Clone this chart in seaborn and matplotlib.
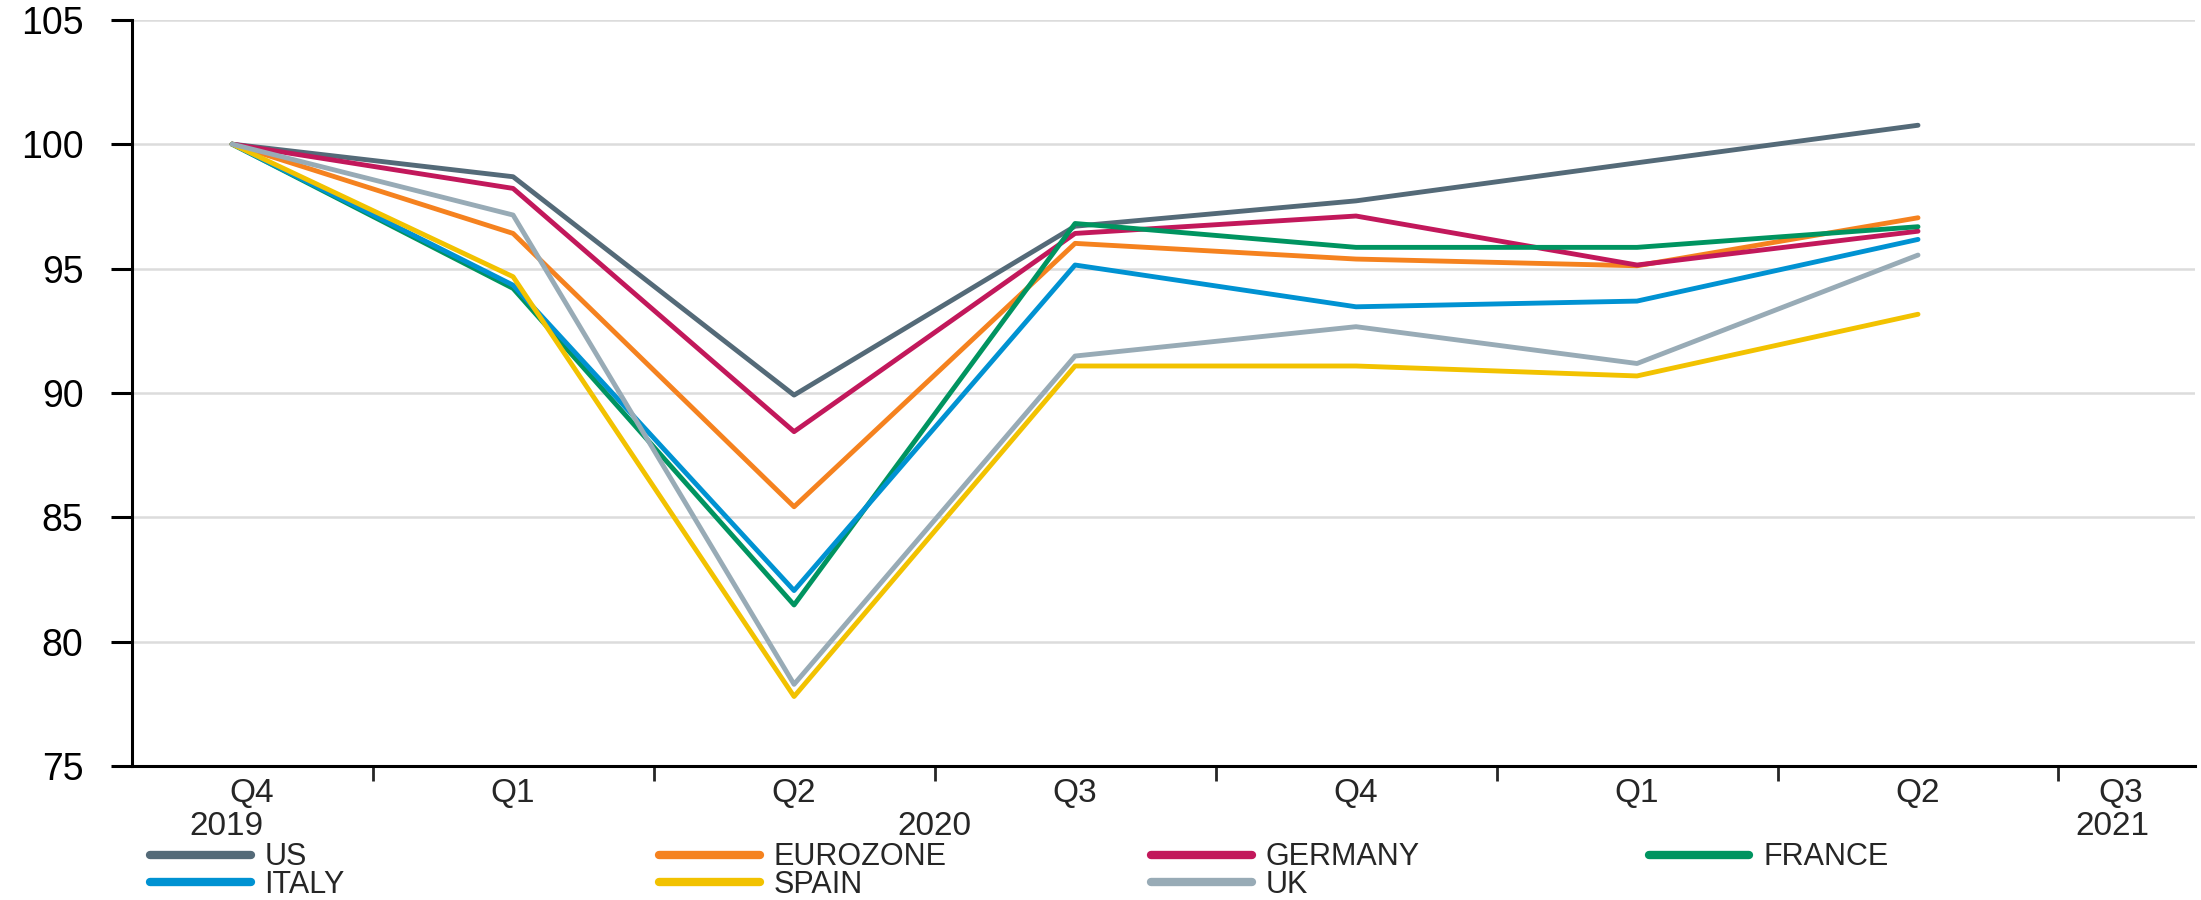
import matplotlib
matplotlib.use("Agg")
import matplotlib.pyplot as plt
import seaborn as sns
import pandas as pd

# quarters, Q4 2019 = 100
quarters = ["Q4", "Q1", "Q2", "Q3", "Q4", "Q1", "Q2", "Q3"]
years = ["2019", "2020", "2021"]

us = [100, 98.69, 89.91, 96.70, 97.72, 99.25, 100.76]
eurozone = [100, 96.41, 85.42, 96.01, 95.38, 95.11, 97.04]
germany = [100, 98.22, 88.44, 96.41, 97.11, 95.14, 96.50]
france = [100, 94.20, 81.47, 96.81, 95.85, 95.85, 96.68]
italy = [100, 94.33, 82.05, 95.14, 93.46, 93.69, 96.17]
spain = [100, 94.67, 77.79, 91.08, 91.08, 90.68, 93.16]
uk = [100, 97.15, 78.28, 91.48, 92.66, 91.18, 95.54]

series = {"US": us, "EUROZONE": eurozone, "GERMANY": germany, "FRANCE": france,
          "ITALY": italy, "SPAIN": spain, "UK": uk}
colors = {"US": "#546a78", "EUROZONE": "#f5821f", "GERMANY": "#c2185b",
          "FRANCE": "#009460", "ITALY": "#0092d2", "SPAIN": "#f2c200", "UK": "#98abb6"}

rows = []
for name, vals in series.items():
    for i, v in enumerate(vals):
        rows.append({"idx": i, "value": v, "country": name})
df = pd.DataFrame(rows)

sns.set_style("white")
plt.rcParams["font.family"] = ["Liberation Sans", "DejaVu Sans"]
FS = 24

fig = plt.figure(figsize=(22.01, 9), dpi=100)
ax = fig.add_axes([0.060, 0.149, 0.9373, 0.829])

sns.lineplot(data=df, x="idx", y="value", hue="country", hue_order=list(series.keys()),
             palette=colors, linewidth=3.5, ax=ax, legend=False)

ax.set_xlim(-0.356, 6.986)
ax.set_ylim(75, 105)
ax.set_yticks([75, 80, 85, 90, 95, 100, 105])
ax.grid(axis="y", color="#dcdcdc", linewidth=1.8)
ax.grid(axis="x", visible=False)
for s in ["top", "right"]:
    ax.spines[s].set_visible(False)
for s in ["left", "bottom"]:
    ax.spines[s].set_color("black")
    ax.spines[s].set_linewidth(2.2)
ax.tick_params(axis="y", direction="out", length=15, width=2.2, pad=20, labelsize=FS + 3,
               colors="black", left=True)

# major ticks between quarters, labels on minor ticks
ax.set_xticks([0.5 + i for i in range(7)])
ax.set_xticklabels([])
ax.tick_params(axis="x", which="major", direction="out", length=11, width=2, bottom=True)
label_pos = [0.07, 1, 2, 3, 4, 5, 6, 6.72]
ax.set_xticks(label_pos, minor=True)
ax.set_xticklabels(quarters, minor=True)
ax.tick_params(axis="x", which="minor", length=0, pad=9, labelsize=FS)
ax.set_xlabel("")
ax.set_ylabel("")

year_pos = [-0.02, 2.5, 6.69]
for x, y in zip(year_pos, years):
    ax.text(x, -0.081, y, transform=ax.get_xaxis_transform(), ha="center", va="center",
            fontsize=FS)

# legend: four columns, placed one by one
columns = [["US", "ITALY"], ["EUROZONE", "SPAIN"], ["GERMANY", "UK"], ["FRANCE"]]
col_x = [0.068, 0.2995, 0.523, 0.749]
for names, x in zip(columns, col_x):
    handles = [plt.Line2D([], [], color=colors[n], linewidth=6) for n in names]
    leg = fig.legend(handles, names, loc="upper left", bbox_to_anchor=(x, 0.064),
                     ncol=1, frameon=False, fontsize=FS - 2, handlelength=3.3,
                     handletextpad=0.45, labelspacing=-0.08, borderpad=0, borderaxespad=0)

fig.savefig("out.png", dpi=100)
